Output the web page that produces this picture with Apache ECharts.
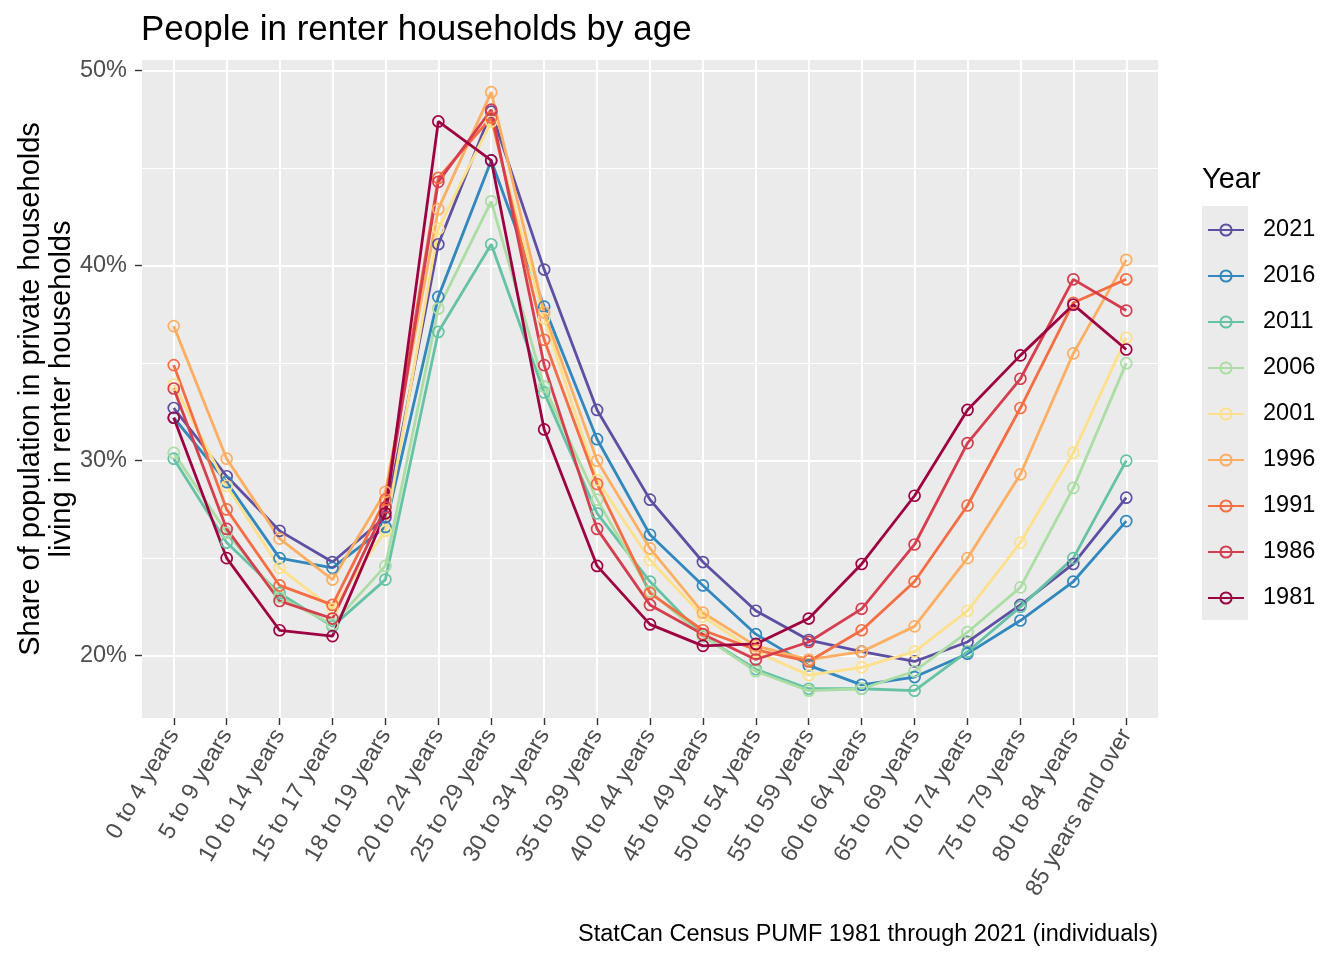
<!DOCTYPE html>
<html>
<head>
<meta charset="utf-8">
<script src="https://cdn.jsdelivr.net/npm/echarts@6/dist/echarts.min.js"></script>
<style>html,body{margin:0;padding:0;background:#fff}#c{width:1344px;height:960px}</style>
</head>
<body>
<div id="c"></div>
<script>
const categories = ["0 to 4 years","5 to 9 years","10 to 14 years","15 to 17 years","18 to 19 years","20 to 24 years","25 to 29 years","30 to 34 years","35 to 39 years","40 to 44 years","45 to 49 years","50 to 54 years","55 to 59 years","60 to 64 years","65 to 69 years","70 to 74 years","75 to 79 years","80 to 84 years","85 years and over"];
const years = ["2021","2016","2011","2006","2001","1996","1991","1986","1981"];
const colors = ["#5E4FA2","#3288BD","#66C2A5","#ABDDA4","#FEE08B","#FDAE61","#F46D43","#D53E4F","#9E0142"];
const y2021 = [32.7, 29.2, 26.4, 24.8, 27.1, 41.1, 47.9, 39.8, 32.6, 28.0, 24.8, 22.3, 20.8, 20.2, 19.7, 20.7, 22.6, 24.7, 28.1];
const y2016 = [32.2, 28.9, 25.0, 24.5, 26.6, 38.4, 45.4, 37.9, 31.1, 26.2, 23.6, 21.1, 19.5, 18.5, 18.9, 20.1, 21.8, 23.8, 26.9];
const y2011 = [30.1, 25.8, 23.2, 21.5, 23.9, 36.6, 41.1, 33.5, 27.3, 23.8, 21.0, 19.3, 18.3, 18.3, 18.2, 20.2, 22.5, 25.0, 30.0];
const y2006 = [30.4, 26.3, 23.0, 21.6, 24.6, 37.8, 43.3, 33.8, 28.0, 23.3, 21.0, 19.2, 18.2, 18.3, 19.2, 21.2, 23.5, 28.6, 35.0];
const y2001 = [33.9, 28.7, 24.5, 22.4, 26.4, 41.9, 47.4, 37.3, 29.0, 24.9, 22.0, 20.2, 19.0, 19.4, 20.2, 22.3, 25.8, 30.4, 36.3];
const y1996 = [36.9, 30.1, 26.0, 23.9, 28.4, 42.9, 48.9, 37.6, 30.0, 25.5, 22.2, 20.5, 19.8, 20.2, 21.5, 25.0, 29.3, 35.5, 40.3];
const y1991 = [34.9, 27.5, 23.6, 22.6, 28.0, 44.5, 47.6, 36.2, 28.8, 23.2, 21.3, 20.3, 19.7, 21.3, 23.8, 27.7, 32.7, 38.1, 39.3];
const y1986 = [33.7, 26.5, 22.8, 21.9, 27.6, 44.3, 48.0, 34.9, 26.5, 22.6, 21.1, 19.8, 20.7, 22.4, 25.7, 30.9, 34.2, 39.3, 37.7];
const y1981 = [32.2, 25.0, 21.3, 21.0, 27.3, 47.4, 45.4, 31.6, 24.6, 21.6, 20.5, 20.6, 21.9, 24.7, 28.2, 32.6, 35.4, 38.0, 35.7];
const seriesValues = [y2021, y2016, y2011, y2006, y2001, y1996, y1991, y1986, y1981];
const yMajorTicks = [20, 30, 40, 50];
const yMinorTicks = [25, 35, 45];
const xTicks = categories.map((c, i) => i);

const FONT = "'Liberation Sans', Arial, Helvetica, sans-serif";
const chart = echarts.init(document.getElementById('c'));
const yMin = 16.8, yMax = 50.55;

const series = years.map((yr, k) => ({
  name: yr,
  type: 'line',
  xAxisIndex: 0,
  yAxisIndex: 0,
  data: seriesValues[k].map((v, i) => [i, v]),
  symbol: 'circle',
  symbolSize: 11,
  showSymbol: true,
  lineStyle: { color: colors[k], width: 2.8 },
  itemStyle: { color: 'rgba(0,0,0,0)', borderColor: colors[k], borderWidth: 1.7 },
  emphasis: { disabled: true },
  animation: false,
  z: 3
}));

chart.setOption({
  animation: false,
  backgroundColor: '#ffffff',
  title: [
    { text: 'People in renter households by age', left: 141, top: 13, padding: 0,
      textStyle: { fontFamily: FONT, fontSize: 35, fontWeight: 'normal', color: '#000' } },
    { text: 'Year', left: 1202, top: 165, padding: 0,
      textStyle: { fontFamily: FONT, fontSize: 29, fontWeight: 'normal', color: '#000' } },
    { text: 'StatCan Census PUMF 1981 through 2021 (individuals)', right: 186, top: 923, padding: 0,
      textStyle: { fontFamily: FONT, fontSize: 23.5, fontWeight: 'normal', color: '#000' } }
  ],
  graphic: [
    { type: 'rect', left: 1202, top: 206, shape: { width: 46, height: 414 }, style: { fill: '#EBEBEB' }, z: 0 }
  ],
  legend: {
    orient: 'vertical',
    left: 1207,
    top: 216,
    itemWidth: 36,
    itemHeight: 14,
    itemGap: 18,
    padding: 0,
    data: years,
    textStyle: { fontFamily: FONT, fontSize: 23.5, color: '#000', lineHeight: 28, padding: [0, 0, 0, 14] },
    selectedMode: false,
    z: 5
  },
  grid: { left: 142, top: 60, width: 1016, height: 658, show: true, backgroundColor: '#EBEBEB', borderWidth: 0, containLabel: false },
  xAxis: [{
    type: 'value',
    min: -0.6,
    max: 18.6,
    axisLine: { show: false, onZero: false },
    axisTick: { show: true, customValues: xTicks, length: 7, lineStyle: { color: '#333333', width: 1.4 } },
    axisLabel: { show: true, customValues: xTicks, rotate: 60, margin: 13,
      formatter: v => categories[Math.round(v)],
      fontFamily: FONT, fontSize: 23.5, color: '#4D4D4D' },
    splitLine: { show: true, lineStyle: { color: '#ffffff', width: 2.1 } }
  }],
  yAxis: [{
    type: 'value',
    min: yMin,
    max: yMax,
    axisLine: { show: false, onZero: false },
    axisTick: { show: true, customValues: yMajorTicks, length: 7, lineStyle: { color: '#333333', width: 1.4 } },
    axisLabel: { show: true, customValues: yMajorTicks, margin: 15, formatter: v => v + '%',
      fontFamily: FONT, fontSize: 23.5, color: '#4D4D4D' },
    splitLine: { show: true, lineStyle: { color: '#ffffff', width: 2.1 } },
    name: 'Share of population in private households\nliving in renter households',
    nameLocation: 'middle',
    nameRotate: 90,
    nameGap: 65,
    nameMoveOverlap: false,
    nameTextStyle: { fontFamily: FONT, fontSize: 29, color: '#000', lineHeight: 31 },
    z: 1
  }, {
    type: 'value',
    min: yMin,
    max: yMax,
    position: 'left',
    axisLine: { show: false, onZero: false },
    axisTick: { show: false, customValues: yMinorTicks },
    axisLabel: { show: false, customValues: yMinorTicks },
    splitLine: { show: true, lineStyle: { color: '#ffffff', width: 1 } },
    z: 0
  }],
  series: series
});
</script>
</body>
</html>
